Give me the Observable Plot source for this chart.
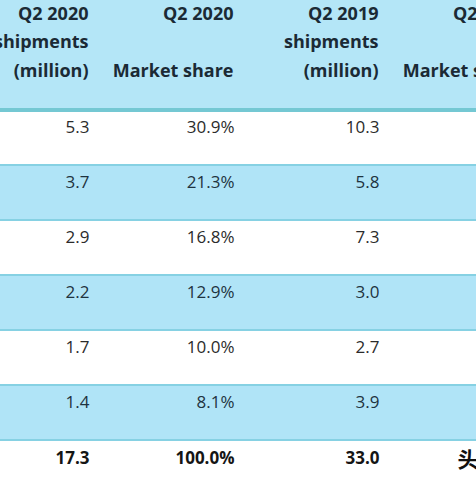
<!DOCTYPE html>
<html><head><meta charset="utf-8">
<script src="https://cdn.jsdelivr.net/npm/d3@7"></script>
<script src="https://cdn.jsdelivr.net/npm/@observablehq/plot@0.6"></script>
<style>html,body{margin:0;padding:0;background:#fff;overflow:hidden} svg{display:block}
text.val{letter-spacing:1.1px} text.hdr{letter-spacing:0.4px}</style>
</head><body><div id="chart"></div>
<script>
const rows = ["Xiaomi", "Vivo", "Samsung", "Oppo", "Realme", "Others", "Total"];
const shipments2020 = [5.3, 3.7, 2.9, 2.2, 1.7, 1.4, 17.3];
const share2020 = [30.9, 21.3, 16.8, 12.9, 10.0, 8.1, 100.0];
const shipments2019 = [10.3, 5.8, 7.3, 3.0, 2.7, 3.9, 33.0];
const share2019 = [31.2, 17.6, 22.1, 9.1, 8.2, 11.8, 100.0];
const columns = ["brand", "s2020", "p2020", "s2019", "p2019"];
const headers = ["", "Q2 2020\nshipments\n(million)", "Q2 2020\n\nMarket share", "Q2 2019\nshipments\n(million)", "Q2 2019\n\nMarket share"];
const watermark = "头条";

const table = rows.map((r, i) => ({row: r, striped: i % 2 === 1, total: r === "Total"}));
const cells = [];
rows.forEach((r, i) => {
  const total = r === "Total", striped = i % 2 === 1;
  cells.push({row: r, col: "s2020", label: shipments2020[i].toFixed(1), total, striped});
  cells.push({row: r, col: "p2020", label: share2020[i].toFixed(1) + "%", total, striped});
  cells.push({row: r, col: "s2019", label: shipments2019[i].toFixed(1), total, striped});
  if (!total) cells.push({row: r, col: "p2019", label: share2019[i].toFixed(1) + "%", total, striped});
});
const headerData = columns.map((c, i) => ({col: c, label: headers[i]})).filter(d => d.label);

const plot = Plot.plot({
  width: 476, height: 477, margin: 0,
  style: {background: "#b4e6f7", fontFamily: "'Open Sans', sans-serif", overflow: "hidden"},
  x: {type: "point", domain: columns, range: [-59, 524], padding: 0, axis: null},
  y: {type: "band", domain: rows, range: [109, 496], padding: 0, axis: null},
  marks: [
    Plot.cell(table, {y: "row", fill: "#86d1e3"}),
    Plot.cell(table, {y: "row", fill: d => d.striped ? "#b0e4f7" : "#ffffff", insetTop: 1, insetBottom: 1}),
    Plot.cell(table.slice(0, 1), {y: "row", fill: "#74c8d3", insetTop: -2, insetBottom: 53}),
    Plot.text(cells.filter(d => !d.total), {
      x: "col", y: "row", text: "label", textAnchor: "end", fontSize: 17, dy: -10, dx: 1,
      fill: d => d.striped ? "#1e3340" : "#2b2b2b", className: "val"
    }),
    Plot.text(cells.filter(d => d.total), {
      x: "col", y: "row", text: "label", textAnchor: "end", fontSize: 17, fontWeight: "bold", dy: -9, dx: 1,
      fill: "#151515", className: "val"
    }),
    Plot.text(headerData, {
      x: "col", text: "label", frameAnchor: "top", lineAnchor: "top", textAnchor: "end",
      fontSize: 18, fontWeight: "bold", lineHeight: 1.58, dy: -1, fill: "#1b2a35", className: "hdr"
    }),
    Plot.text([{row: "Total", col: "p2019", label: watermark}], {
      x: "col", y: "row", text: "label", textAnchor: "start", dx: -66, dy: -8,
      fontSize: 21, fontWeight: "bold", fontFamily: "'Noto Sans CJK SC'", fill: "#111"
    })
  ]
});
document.getElementById("chart").append(plot);
</script>
</body></html>
